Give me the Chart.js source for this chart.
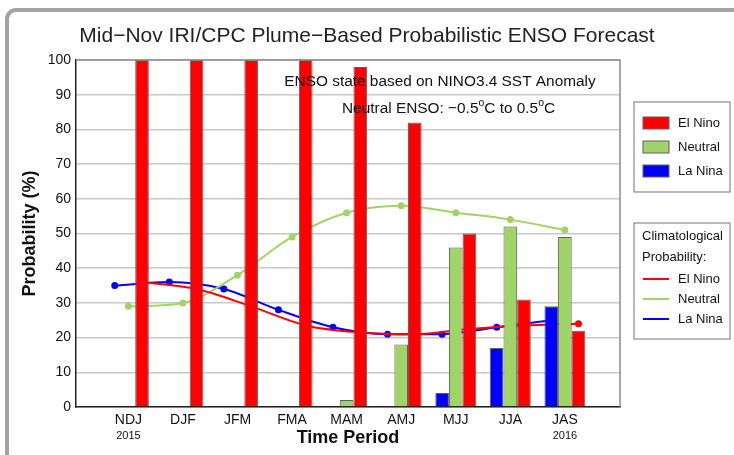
<!DOCTYPE html>
<html>
<head>
<meta charset="utf-8">
<script src="https://cdn.jsdelivr.net/npm/chart.js@4.4.0/dist/chart.umd.min.js"></script>
<style>
  html, body { margin: 0; padding: 0; background: #fff; overflow: hidden; }
  #frame { position: absolute; left: 5px; top: 8px; width: 780px; height: 490px; border: 4px solid #a3a3a3; border-radius: 11px; }
  #chart { position: absolute; left: 0; top: 0; }
</style>
</head>
<body>
<div id="frame"></div>
<canvas id="chart" width="734" height="455"></canvas>
<script>
const chartTitle = 'Mid\u2212Nov IRI/CPC Plume\u2212Based Probabilistic ENSO Forecast';
const periods = ['NDJ', 'DJF', 'JFM', 'FMA', 'MAM', 'AMJ', 'MJJ', 'JJA', 'JAS'];
const yearLabels = ['2015', '', '', '', '', '', '', '', '2016'];

// forecast probabilities (bars)
const elNinoProb = [100, 100, 100, 100, 98, 82, 50, 31, 22];
const neutralProb = [0, 0, 0, 0, 2, 18, 46, 52, 49];
const laNinaProb = [0, 0, 0, 0, 0, 0, 4, 17, 29];

// climatological probabilities (lines)
const climElNino = [36, 34, 29, 23.5, 21.5, 21, 22.5, 23.5, 24];
const climNeutral = [29, 30, 38, 49, 56, 58, 56, 54, 51];
const climLaNina = [35, 36, 34, 28, 23, 21, 21, 23, 25];

const RED = '#ff0000', GREEN = '#9fd466', BLUE = '#0000ff';
const FONT = '"Liberation Sans", Arial, Helvetica, sans-serif';

// bars sit side by side in each group, lines go through their bar's centre
const toPoints = (vals, shift) => vals.map((v, i) => ({ x: i + shift, y: v }));

function barSet(label, vals, color) {
    return {
        type: 'bar', label, data: toPoints(vals, 0),
        backgroundColor: color, borderColor: '#606060', borderWidth: 1,
        categoryPercentage: 0.75, barPercentage: 1.0, order: 0
    };
}
function lineSet(label, vals, color, shift) {
    return {
        type: 'line', label, data: toPoints(vals, shift),
        borderColor: color, backgroundColor: color, borderWidth: 2,
        pointRadius: 2.5, pointHoverRadius: 2.5,
        cubicInterpolationMode: 'monotone', order: 1
    };
}

function drawLegends(ctx, area) {
    const bx = area.right + 14, bw = 96;
    ctx.save();
    ctx.strokeStyle = '#8a8a8a';
    ctx.lineWidth = 1.2;
    ctx.strokeRect(bx, 102, bw, 90);
    ctx.strokeRect(bx, 223, bw, 116);
    ctx.font = '13px ' + FONT;
    ctx.fillStyle = '#111';
    ctx.textBaseline = 'middle';
    const items = [['El Nino', RED], ['Neutral', GREEN], ['La Nina', BLUE]];
    items.forEach(([txt, col], k) => {
        const y = 123 + k * 24;
        ctx.fillStyle = col;
        ctx.fillRect(bx + 9, y - 6, 26, 12);
        ctx.strokeStyle = '#606060';
        ctx.lineWidth = 1;
        ctx.strokeRect(bx + 9, y - 6, 26, 12);
        ctx.fillStyle = '#111';
        ctx.fillText(txt, bx + 44, y);
    });
    ctx.fillText('Climatological', bx + 8, 236);
    ctx.fillText('Probability:', bx + 8, 257);
    items.forEach(([txt, col], k) => {
        const y = 279 + k * 20;
        ctx.strokeStyle = col;
        ctx.lineWidth = 2;
        ctx.beginPath();
        ctx.moveTo(bx + 9, y);
        ctx.lineTo(bx + 35, y);
        ctx.stroke();
        ctx.fillText(txt, bx + 44, y);
    });
    ctx.restore();
}

function drawNote(ctx, area) {
    ctx.save();
    ctx.fillStyle = '#111';
    ctx.textBaseline = 'middle';
    ctx.font = '15.4px ' + FONT;
    ctx.textAlign = 'center';
    ctx.fillText('ENSO state based on NINO3.4 SST Anomaly', area.left + 364, 82);
    // second line with superscript degree marks
    const parts = [['Neutral ENSO: \u22120.5', false], ['o', true], ['C to 0.5', false], ['o', true], ['C', false]];
    ctx.textAlign = 'left';
    let x = area.left + 266;
    parts.forEach(([t, sup]) => {
        ctx.font = (sup ? '10.5px ' : '15.4px ') + FONT;
        ctx.fillText(t, x, sup ? 103 : 109);
        x += ctx.measureText(t).width;
    });
    ctx.restore();
}

const extras = {
    id: 'extras',
    afterDatasetsDraw(chart) {
        const { ctx, chartArea: a } = chart;
        ctx.save();
        ctx.strokeStyle = '#8a8a8a';
        ctx.lineWidth = 1.5;
        ctx.beginPath();
        ctx.moveTo(a.left, a.top);
        ctx.lineTo(a.right, a.top);
        ctx.lineTo(a.right, a.bottom);
        ctx.stroke();
        ctx.restore();
        drawNote(ctx, a);
    },
    afterDraw(chart) {
        const { ctx, chartArea: a, scales } = chart;
        ctx.save();
        ctx.fillStyle = '#222';
        ctx.textAlign = 'center';
        ctx.textBaseline = 'middle';
        ctx.font = '21px ' + FONT;
        ctx.fillText(chartTitle, chart.width / 2, 36);
        ctx.fillStyle = '#111';
        ctx.font = '11px ' + FONT;
        yearLabels.forEach((y, i) => {
            if (y) ctx.fillText(y, scales.x.getPixelForValue(i), 436);
        });
        ctx.restore();
        drawLegends(ctx, a);
    }
};

new Chart(document.getElementById('chart'), {
    type: 'bar',
    data: {
        datasets: [
            barSet('La Nina', laNinaProb, BLUE),
            barSet('Neutral', neutralProb, GREEN),
            barSet('El Nino', elNinoProb, RED),
            lineSet('Clim. El Nino', climElNino, RED, 0.25),
            lineSet('Clim. Neutral', climNeutral, GREEN, 0),
            lineSet('Clim. La Nina', climLaNina, BLUE, -0.25)
        ]
    },
    options: {
        responsive: false,
        devicePixelRatio: 1,
        animation: false,
        layout: { padding: { left: 0, right: 114, top: 60, bottom: 0 } },
        plugins: {
            legend: { display: false },
            tooltip: { enabled: false },
            title: { display: false }
        },
        scales: {
            x: {
                type: 'linear',
                min: -0.96,
                max: 9.01,
                offset: false,
                afterBuildTicks: s => { s.ticks = periods.map((_, i) => ({ value: i })); },
                afterFit: s => { s.height = 48; },
                ticks: {
                    callback: v => periods[v],
                    color: '#111',
                    font: { family: FONT, size: 14 },
                    padding: 5,
                    maxRotation: 0,
                    autoSkip: false
                },
                grid: { display: false, drawTicks: false },
                border: { display: true, color: '#222', width: 1.5 },
                title: {
                    display: true, text: 'Time Period', color: '#111',
                    font: { family: FONT, size: 18, weight: 'bold' },
                    padding: { top: 0, bottom: 6 }
                }
            },
            y: {
                min: 0,
                max: 100,
                afterFit: s => { s.width = 76; },
                ticks: {
                    stepSize: 10,
                    color: '#111',
                    font: { family: FONT, size: 14 },
                    padding: 5
                },
                grid: { color: '#c8c8c8', lineWidth: 1.5, drawTicks: false },
                border: { display: true, color: '#222', width: 1.5 },
                title: {
                    display: true, text: 'Probability (%)', color: '#111',
                    font: { family: FONT, size: 18, weight: 'bold' },
                    padding: { top: 19, bottom: 0 }
                }
            }
        }
    },
    plugins: [extras]
});
</script>
</body>
</html>
